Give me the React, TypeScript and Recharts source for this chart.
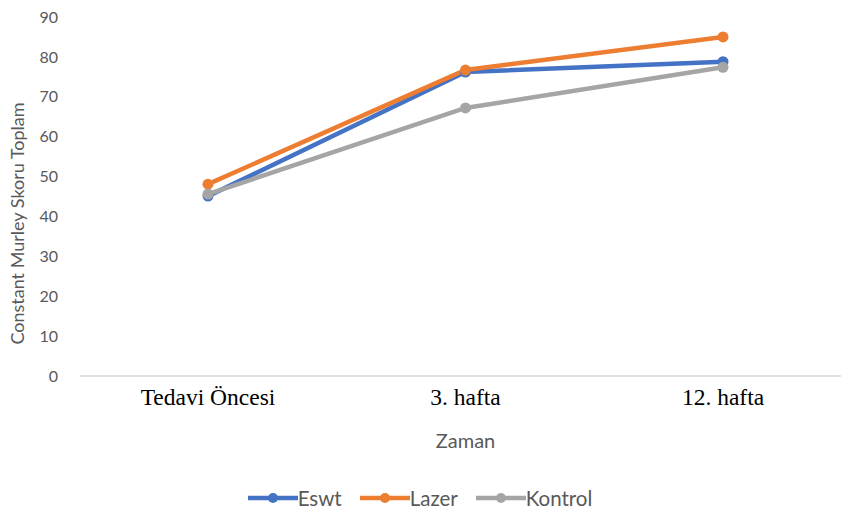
import { Label, Legend, Line, LineChart, XAxis, YAxis } from "recharts";

const categories = ["Tedavi Öncesi", "3. hafta", "12. hafta"];
const eswt = [45.1, 76.2, 78.8];
const lazer = [48.1, 76.7, 85.0];
const kontrol = [45.6, 67.2, 77.4];
const yTicks = [0, 10, 20, 30, 40, 50, 60, 70, 80, 90];

const series = [
  { key: "eswt", name: "Eswt", color: "#4472C4" },
  { key: "lazer", name: "Lazer", color: "#ED7D31" },
  { key: "kontrol", name: "Kontrol", color: "#A5A5A5" },
];

const data = categories.map((c, i) => ({
  name: c,
  eswt: eswt[i],
  lazer: lazer[i],
  kontrol: kontrol[i],
}));

const sans = "Lato, 'Open Sans', sans-serif";
const grey = "#595959";

function LegendContent() {
  return (
    <div style={{ display: "flex", justifyContent: "center", alignItems: "center", fontFamily: sans, fontSize: 20.5, color: grey }}>
      {series.map((s) => (
        <div key={s.key} style={{ display: "flex", alignItems: "center", marginRight: 18 }}>
          <svg width={50} height={14}>
            <line x1={0} y1={7} x2={50} y2={7} stroke={s.color} strokeWidth={4.5} strokeLinecap="round" />
            <circle cx={25} cy={7} r={5} fill={s.color} />
          </svg>
          <span>{s.name}</span>
        </div>
      ))}
    </div>
  );
}

export default function App() {
  return (
    <div style={{ position: "absolute", left: 0, top: 0, width: 841, height: 516, overflow: "hidden", background: "#fff" }}>
      <LineChart width={851} height={516} data={data} margin={{ top: 17, right: 0, bottom: 0, left: 0 }}>
        <XAxis
          dataKey="name"
          height={110}
          tickLine={false}
          tickMargin={6}
          axisLine={{ stroke: "#D9D9D9", strokeWidth: 1.5 }}
          tick={{ fill: "#000", fontSize: 23.5, fontFamily: "'Liberation Serif', 'Times New Roman', serif" }}
          padding={{ left: 128, right: 128 }}
        >
          <Label value="Zaman" position="insideBottom" offset={38} fill={grey} fontSize={20} fontFamily={sans} />
        </XAxis>
        <YAxis
          width={80}
          domain={[0, 90]}
          ticks={yTicks}
          interval={0}
          axisLine={false}
          tickLine={false}
          tickMargin={16}
          tick={{ fill: grey, fontSize: 16, fontFamily: sans }}
        >
          <Label
            value="Constant Murley Skoru Toplam"
            angle={-90}
            position="insideLeft"
            offset={18}
            dy={27}
            fill={grey}
            fontSize={18}
            fontFamily={sans}
            style={{ textAnchor: "middle" }}
          />
        </YAxis>
        <Legend
          verticalAlign="bottom"
          height={30}
          content={<LegendContent />}
          wrapperStyle={{ left: 0, width: 858 }}
        />
        {series.map((s) => (
          <Line
            key={s.key}
            dataKey={s.key}
            name={s.name}
            stroke={s.color}
            strokeWidth={4.5}
            dot={{ r: 5.5, fill: s.color, stroke: s.color, strokeWidth: 0 }}
            activeDot={false}
            isAnimationActive={false}
          />
        ))}
      </LineChart>
    </div>
  );
}
